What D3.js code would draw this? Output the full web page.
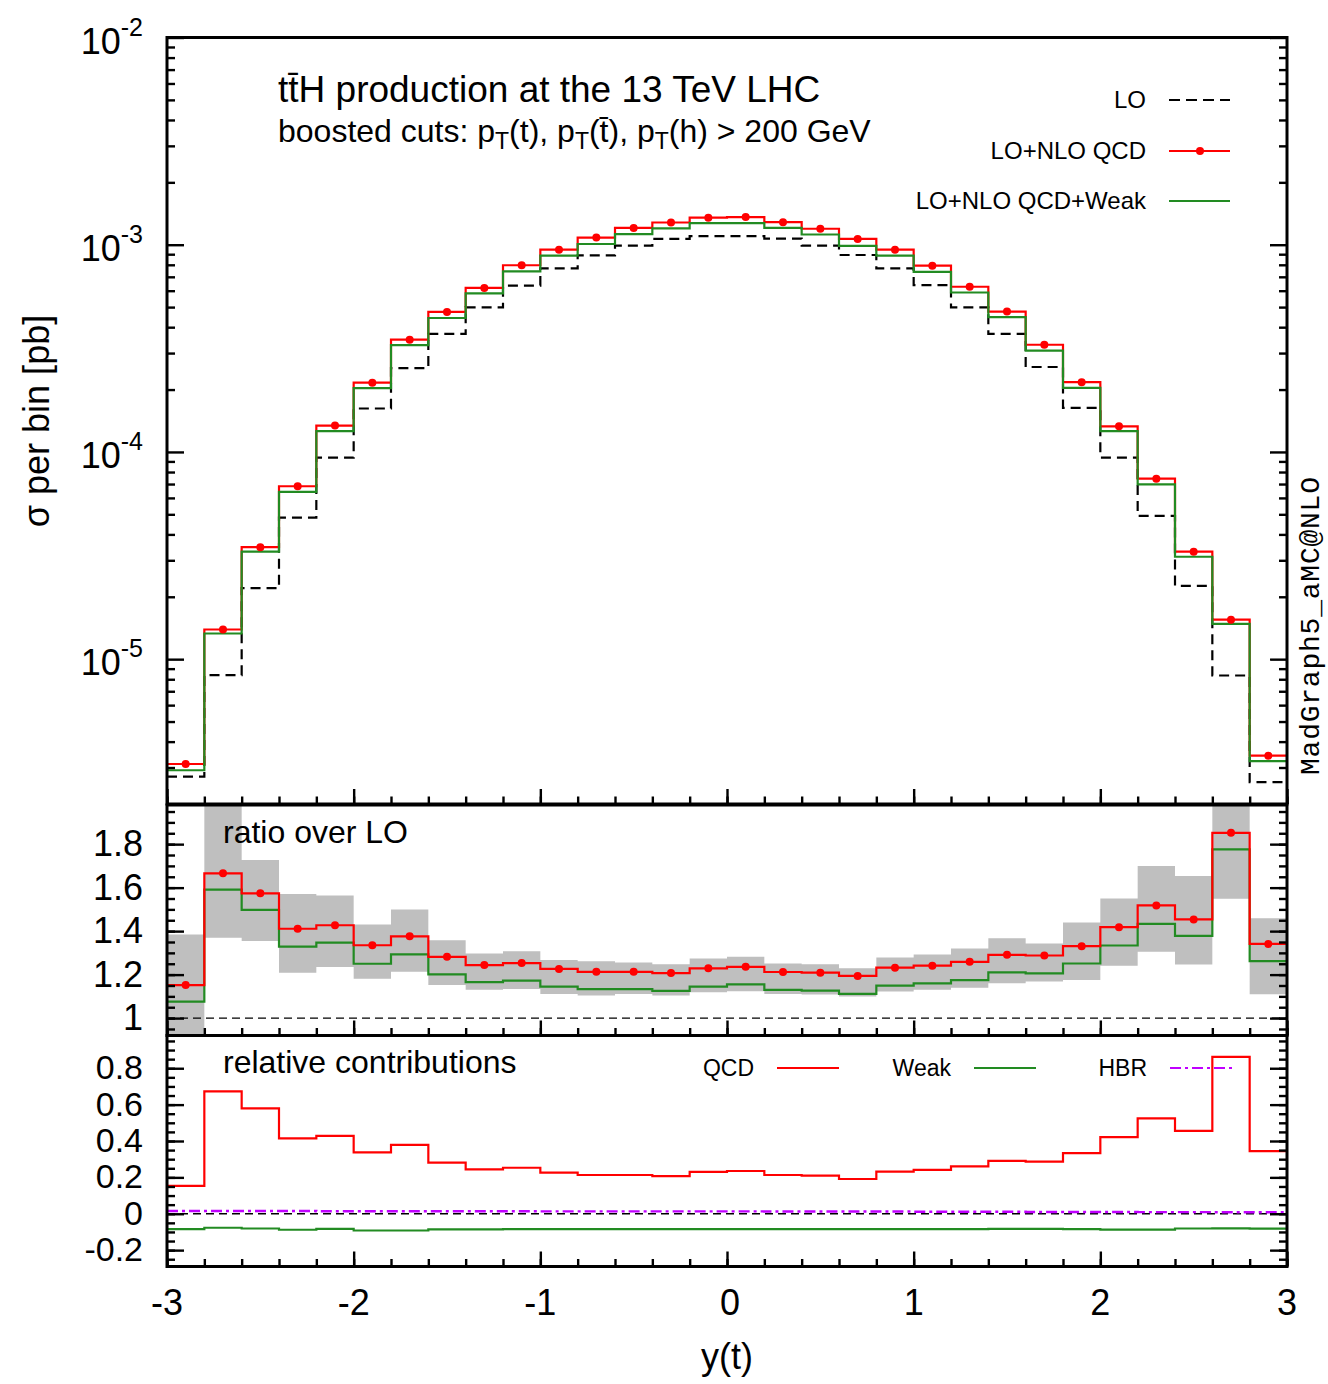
<!DOCTYPE html>
<html>
<head>
<meta charset="utf-8">
<script src="https://cdn.jsdelivr.net/npm/d3@7"></script>
<style>
body{margin:0;background:#fff}
text{font-family:"Liberation Sans",Arial,Helvetica,sans-serif;fill:#000}
</style>
</head>
<body>
<svg id="chart"></svg>
<script>
const WIDTH = 1328, HEIGHT = 1384;

// bins in y(t)
const binEdges = [-3,-2.8,-2.6,-2.4,-2.2,-2,-1.8,-1.6,-1.4,-1.2,-1,-0.8,-0.6,-0.4,-0.2,0,
                  0.2,0.4,0.6,0.8,1,1.2,1.4,1.6,1.8,2,2.2,2.4,2.6,2.8,3];

// top panel: sigma per bin [pb]
const sigLO = [2.71e-6,8.37e-6,2.20e-5,4.82e-5,9.38e-5,1.62e-4,2.54e-4,3.71e-4,4.99e-4,6.35e-4,
               7.69e-4,8.88e-4,9.91e-4,1.066e-3,1.10e-3,1.10e-3,1.07e-3,9.91e-4,8.92e-4,7.69e-4,
               6.38e-4,4.99e-4,3.71e-4,2.57e-4,1.63e-4,9.38e-5,4.91e-5,2.26e-5,8.34e-6,2.55e-6];
const sigQCD = [3.12e-6,1.39e-5,3.47e-5,6.83e-5,1.34e-4,2.16e-4,3.48e-4,4.74e-4,6.19e-4,7.96e-4,
                9.46e-4,1.083e-3,1.205e-3,1.28e-3,1.35e-3,1.36e-3,1.285e-3,1.194e-3,1.066e-3,9.46e-4,
                7.92e-4,6.27e-4,4.76e-4,3.29e-4,2.17e-4,1.33e-4,7.43e-5,3.30e-5,1.55e-5,3.42e-6];
const sigQCDWeak = [2.91e-6,1.33e-5,3.30e-5,6.41e-5,1.26e-4,2.03e-4,3.28e-4,4.43e-4,5.83e-4,7.43e-4,
                    8.85e-4,1.008e-3,1.126e-3,1.20e-3,1.27e-3,1.27e-3,1.205e-3,1.12e-3,9.87e-4,8.85e-4,
                    7.40e-4,5.88e-4,4.47e-4,3.08e-4,2.04e-4,1.26e-4,6.97e-5,3.12e-5,1.48e-5,3.22e-6];

// ratio over LO
const ratioQCD = [1.152,1.666,1.574,1.411,1.427,1.335,1.376,1.282,1.244,1.253,1.226,1.213,1.213,1.207,1.229,
                  1.236,1.212,1.209,1.194,1.232,1.241,1.259,1.291,1.288,1.331,1.418,1.518,1.454,1.852,1.341];
const ratioQCDWeak = [1.076,1.591,1.498,1.329,1.347,1.250,1.293,1.201,1.165,1.172,1.145,1.133,1.133,1.125,1.145,
                      1.155,1.130,1.126,1.111,1.149,1.160,1.175,1.210,1.206,1.251,1.334,1.433,1.378,1.776,1.262];
const bandLo = [0.88,1.369,1.355,1.209,1.235,1.181,1.213,1.152,1.130,1.134,1.111,1.104,1.111,1.104,1.119,
                1.123,1.111,1.108,1.099,1.122,1.130,1.140,1.160,1.168,1.175,1.241,1.305,1.247,1.549,1.110];
const bandHi = [1.384,2.05,1.727,1.571,1.564,1.430,1.500,1.358,1.297,1.308,1.267,1.262,1.256,1.248,1.274,
                1.282,1.251,1.248,1.229,1.279,1.293,1.320,1.367,1.343,1.440,1.550,1.699,1.654,2.05,1.459];

// relative contributions
const relQCD = [0.153,0.673,0.579,0.414,0.428,0.337,0.379,0.281,0.244,0.253,0.226,0.213,0.213,0.207,0.230,
                0.235,0.213,0.210,0.191,0.232,0.241,0.261,0.291,0.287,0.333,0.421,0.524,0.456,0.863,0.344];
const relWeak = [-0.085,-0.077,-0.081,-0.088,-0.083,-0.092,-0.092,-0.086,-0.086,-0.085,-0.084,-0.084,-0.084,-0.085,-0.085,
                 -0.084,-0.085,-0.085,-0.085,-0.084,-0.084,-0.084,-0.083,-0.083,-0.084,-0.087,-0.087,-0.081,-0.080,-0.082];
const relHBR = [0.015,0.015,0.015,0.015,0.014,0.014,0.014,0.014,0.014,0.014,0.013,0.013,0.013,0.013,0.013,
                0.013,0.012,0.012,0.012,0.012,0.011,0.011,0.011,0.010,0.010,0.010,0.009,0.009,0.008,0.008];

// tick labels
const xTickLabels = [-3,-2,-1,0,1,2,3];
const topTickExp = [-2,-3,-4,-5];
const ratioTickLabels = [1,1.2,1.4,1.6,1.8];
const relTickLabels = [-0.2,0,0.2,0.4,0.6,0.8];

const RED = '#ff0000', GREEN = '#228b22', GREY = '#bfbfbf', VIOLET = '#c000ff';
const L = 167, R = 1287;

const svg = d3.select('#chart').attr('width',WIDTH).attr('height',HEIGHT);
const x = d3.scaleLinear().domain([-3,3]).range([L,R]);

const panels = [
    {name:'top',   y: d3.scaleLog().domain([2e-6,1e-2]).range([804,37.5]),     t:37.5, b:804},
    {name:'ratio', y: d3.scaleLinear().domain([0.92,1.98]).range([1035.5,805]), t:805,  b:1035.5},
    {name:'rel',   y: d3.scaleLinear().domain([-0.29,0.98]).range([1266.5,1035.5]), t:1035.5, b:1266.5}
];
const P = {};
panels.forEach(p => {
    P[p.name] = p;
    svg.append('clipPath').attr('id','clip-'+p.name)
        .append('rect').attr('x',L).attr('y',p.t).attr('width',R-L).attr('height',p.b-p.t);
    p.g = svg.append('g').attr('clip-path','url(#clip-'+p.name+')');
});

function stepLine(y, vals){
    return d3.line()
        .x((d,i) => x(binEdges[i]))
        .y(d => y(d))
        .curve(d3.curveStepAfter)(vals.concat([vals[vals.length-1]]));
}
function drawStep(p, vals, color, dash, w){
    p.g.append('path').attr('d', stepLine(p.y, vals))
        .attr('fill','none').attr('stroke',color).attr('stroke-width',w || 2.2)
        .attr('stroke-dasharray', dash || null);
}
function drawDots(p, vals){
    p.g.selectAll(null).data(vals).enter().append('circle')
        .attr('cx',(d,i) => x((binEdges[i]+binEdges[i+1])/2))
        .attr('cy',d => p.y(d)).attr('r',4).attr('fill',RED);
}
function hline(p, v, color, dash, w){
    p.g.append('line').attr('x1',L).attr('x2',R).attr('y1',p.y(v)).attr('y2',p.y(v))
        .attr('stroke',color).attr('stroke-width',w).attr('stroke-dasharray',dash);
}

// ---- top panel
drawStep(P.top, sigLO, '#000', '10,6', 2.2);
drawStep(P.top, sigQCD, RED);
drawStep(P.top, sigQCDWeak, GREEN);
drawDots(P.top, sigQCD);

// ---- ratio panel
P.ratio.g.append('path')
    .attr('d', d3.area().x((d,i) => x(binEdges[i]))
        .y0((d,i) => P.ratio.y(d[0])).y1(d => P.ratio.y(d[1]))
        .curve(d3.curveStepAfter)(bandLo.map((d,i) => [d,bandHi[i]]).concat([[bandLo[29],bandHi[29]]])))
    .attr('fill',GREY);
hline(P.ratio, 1, '#000', '8,5', 1.3);
drawStep(P.ratio, ratioQCDWeak, GREEN);
drawStep(P.ratio, ratioQCD, RED);
drawDots(P.ratio, ratioQCD);

// ---- relative contributions
hline(P.rel, 0, '#000', '8,5', 1.3);
drawStep(P.rel, relHBR, VIOLET, '11,4,3,4', 2.4);
drawStep(P.rel, relWeak, GREEN);
drawStep(P.rel, relQCD, RED);

// ---- ticks
function yTicks(p, vals, len){
    const gl = svg.append('g').attr('transform','translate('+L+',0)')
        .call(d3.axisLeft(p.y).tickValues(vals).tickSize(-len).tickFormat(''));
    const gr = svg.append('g').attr('transform','translate('+R+',0)')
        .call(d3.axisRight(p.y).tickValues(vals).tickSize(-len).tickFormat(''));
    [gl,gr].forEach(g => { g.select('.domain').remove(); g.selectAll('line').attr('stroke','#000').attr('stroke-width',2.4); });
}
function xTicks(p){
    [[x.ticks(24), 7.5],[xTickLabels, 15]].forEach(([vals,len]) => {
        const g = svg.append('g').attr('transform','translate(0,'+p.b+')')
            .call(d3.axisBottom(x).tickValues(vals).tickSize(-len).tickFormat(''));
        g.select('.domain').remove();
        g.selectAll('line').attr('stroke','#000').attr('stroke-width',2.4);
    });
}

const topMajor = topTickExp.map(e => Math.pow(10,e));
yTicks(P.top, P.top.y.ticks().filter(v => topMajor.indexOf(v) < 0), 8);
yTicks(P.top, topMajor, 17);
yTicks(P.ratio, d3.range(0.95,1.96,0.05), 8);
yTicks(P.ratio, ratioTickLabels, 17);
yTicks(P.rel, d3.range(-0.25,0.96,0.05), 8);
yTicks(P.rel, relTickLabels, 17);
panels.forEach(xTicks);

// frames
panels.forEach(p => {
    svg.append('rect').attr('x',L).attr('y',p.t).attr('width',R-L).attr('height',p.b-p.t)
        .attr('fill','none').attr('stroke','#000').attr('stroke-width',3);
});

// ---- tick labels
topTickExp.forEach(e => {
    const t = svg.append('text').attr('x',143).attr('y',P.top.y(Math.pow(10,e))+16)
        .attr('text-anchor','end').style('font-size','36px');
    t.append('tspan').text('10');
    t.append('tspan').attr('dy',-18).style('font-size','25px').text(e);
});
ratioTickLabels.forEach(v => {
    svg.append('text').attr('x',143).attr('y',P.ratio.y(v)+12).attr('text-anchor','end')
        .style('font-size','36px').text(v);
});
relTickLabels.forEach(v => {
    svg.append('text').attr('x',143).attr('y',P.rel.y(v)+11).attr('text-anchor','end')
        .style('font-size','34px').text(v);
});
xTickLabels.forEach(v => {
    svg.append('text').attr('x',x(v)+(v === 0 ? 3 : 0)).attr('y',1315).attr('text-anchor','middle')
        .style('font-size','36px').text(v);
});

// ---- axis titles
svg.append('text').attr('x',727).attr('y',1369).attr('text-anchor','middle')
    .style('font-size','36px').text('y(t)');
svg.append('text').attr('transform','translate(49,421) rotate(-90)').attr('text-anchor','middle')
    .style('font-size','36px').text('σ per bin [pb]');
svg.append('text').attr('transform','translate(1319,626) rotate(-90)').attr('text-anchor','middle')
    .style('font-family','"Liberation Mono","DejaVu Sans Mono",monospace').style('font-size','28px')
    .attr('textLength',298).attr('lengthAdjust','spacing').text('MadGraph5_aMC@NLO');

// ---- titles
svg.append('text').attr('x',278).attr('y',102).style('font-size','37px')
    .text('tt\u0304H production at the 13 TeV LHC');
const sub = svg.append('text').attr('x',278).attr('y',142).style('font-size','32px');
sub.append('tspan').text('boosted cuts: p');
sub.append('tspan').attr('dy',7).style('font-size','23px').text('T');
sub.append('tspan').attr('dy',-7).text('(t), p');
sub.append('tspan').attr('dy',7).style('font-size','23px').text('T');
sub.append('tspan').attr('dy',-7).text('(t\u0304), p');
sub.append('tspan').attr('dy',7).style('font-size','23px').text('T');
sub.append('tspan').attr('dy',-7).text('(h) > 200 GeV');

svg.append('text').attr('x',223).attr('y',843).style('font-size','32px').text('ratio over LO');
svg.append('text').attr('x',223).attr('y',1073).style('font-size','32px').text('relative contributions');

// ---- legends
const legTop = [
    {label:'LO', color:'#000', dash:'11,6', dot:false, y:100},
    {label:'LO+NLO QCD', color:RED, dash:null, dot:true, y:151},
    {label:'LO+NLO QCD+Weak', color:GREEN, dash:null, dot:false, y:201}
];
legTop.forEach(d => {
    svg.append('text').attr('x',1146).attr('y',d.y+8).attr('text-anchor','end')
        .style('font-size','24px').text(d.label);
    svg.append('line').attr('x1',1169).attr('x2',1230).attr('y1',d.y).attr('y2',d.y)
        .attr('stroke',d.color).attr('stroke-width',2.2).attr('stroke-dasharray',d.dash);
    if(d.dot) svg.append('circle').attr('cx',1200).attr('cy',d.y).attr('r',4).attr('fill',RED);
});
const legRel = [
    {label:'QCD', color:RED, dash:null, x:754},
    {label:'Weak', color:GREEN, dash:null, x:951},
    {label:'HBR', color:VIOLET, dash:'11,4,3,4', x:1147}
];
legRel.forEach(d => {
    svg.append('text').attr('x',d.x).attr('y',1076).attr('text-anchor','end')
        .style('font-size','23px').text(d.label);
    svg.append('line').attr('x1',d.x+23).attr('x2',d.x+85).attr('y1',1068).attr('y2',1068)
        .attr('stroke',d.color).attr('stroke-width',2.2).attr('stroke-dasharray',d.dash);
});
</script>
</body>
</html>
